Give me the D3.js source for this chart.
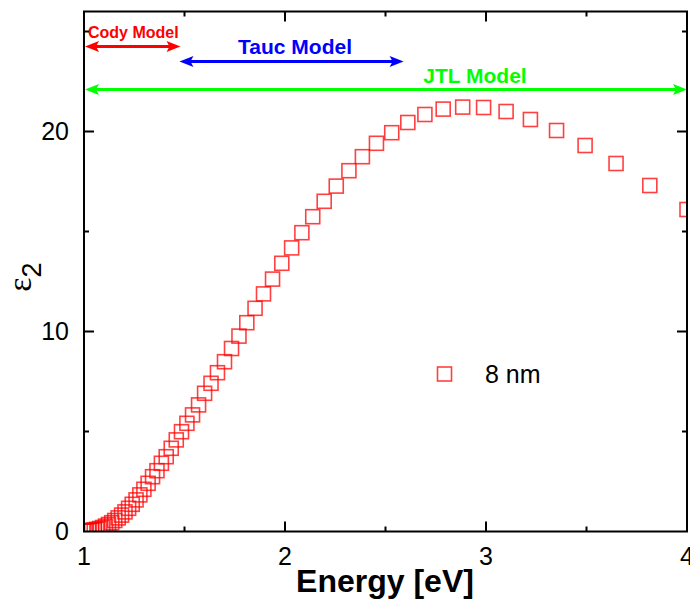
<!DOCTYPE html>
<html><head><meta charset="utf-8">
<script src="https://cdn.jsdelivr.net/npm/d3@7"></script>
<style>body{margin:0;background:#fff}svg{display:block}</style>
</head><body>
<svg id="c" width="690" height="603"></svg>
<script>
const energy = [4.000,3.815,3.647,3.493,3.351,3.221,3.100,2.988,2.884,2.787,2.696,2.611,2.531,2.455,2.385,2.318,2.255,2.195,2.138,2.084,2.033,1.984,1.938,1.893,1.851,1.810,1.771,1.734,1.699,1.664,1.632,1.600,1.570,1.540,1.512,1.485,1.459,1.434,1.409,1.385,1.363,1.341,1.319,1.298,1.278,1.259,1.240,1.222,1.204,1.187,1.170,1.153,1.138,1.122,1.107,1.093,1.078,1.064,1.051,1.038,1.025,1.012,1.000];
const eps2 = [16.1,17.3,18.4,19.3,20.05,20.6,21.0,21.2,21.22,21.12,20.85,20.45,19.94,19.41,18.74,18.04,17.27,16.51,15.74,14.94,14.18,13.41,12.62,11.88,11.16,10.44,9.77,9.15,8.49,7.94,7.41,6.91,6.33,5.83,5.41,4.99,4.58,4.16,3.74,3.41,3.04,2.74,2.41,2.11,1.83,1.58,1.36,1.16,0.98,0.82,0.68,0.55,0.44,0.35,0.27,0.20,0.15,0.11,0.08,0.06,0.04,0.03,0.02];
const seriesName = "8 nm";
const xMajor = [1,2,3,4];
const xMinor = [1.5,2.5,3.5];
const yMajor = [0,10,20];
const yMinor = [5,15,25];
const modelNames = ["Cody Model","Tauc Model","JTL Model"];
const modelFrom = [1.0,1.47,1.0];
const modelTo = [1.48,2.59,4.0];
const modelColors = ["#ff0000","#0000ff","#00ff00"];

const svg = d3.select("#c");
const L = 84, R = 687, T = 11.5, B = 531.5;
const x = d3.scaleLinear().domain([1,4]).range([L,R]);
const y = d3.scaleLinear().domain([0,26]).range([B,T]);

svg.append("defs").append("clipPath").attr("id","clip")
  .append("rect").attr("x",L).attr("y",T).attr("width",R-L).attr("height",B-T);

// data
const g = svg.append("g").attr("clip-path","url(#clip)");
const s = 14;
g.selectAll("rect.pt").data(energy.map((e,i)=>[e,eps2[i]])).join("rect")
  .attr("class","pt")
  .attr("x",d=>x(d[0])-s/2).attr("y",d=>y(d[1])-s/2)
  .attr("width",s).attr("height",s)
  .attr("fill","none").attr("stroke","#ff0000").attr("stroke-opacity",0.75).attr("stroke-width",1.6);

// arrows
const arrowY = [24.25, 23.5, 22.1];
function head(xTip, yy, dir, color){
  const len = 14, hw = 5.5, notch = 3;
  const p = d3.path();
  p.moveTo(xTip, yy);
  p.lineTo(xTip - dir*len, yy - hw);
  p.lineTo(xTip - dir*(len-notch), yy);
  p.lineTo(xTip - dir*len, yy + hw);
  p.closePath();
  svg.append("path").attr("d",p.toString()).attr("fill",color);
}
modelNames.forEach((n,i)=>{
  const yy = y(arrowY[i]);
  const x0 = x(modelFrom[i])+1, x1 = x(modelTo[i]);
  svg.append("line").attr("x1",x0+6).attr("x2",x1-6).attr("y1",yy).attr("y2",yy)
    .attr("stroke",modelColors[i]).attr("stroke-width",3.2);
  head(x0, yy, -1, modelColors[i]);
  head(x1, yy, 1, modelColors[i]);
});
// labels
svg.append("text").attr("x",x(1.02)).attr("y",y(24.7)).text(modelNames[0])
  .attr("font-family","Liberation Sans, Arial, sans-serif").attr("font-weight","bold")
  .attr("font-size",16).attr("fill",modelColors[0]);
svg.append("text").attr("x",x(2.05)).attr("y",y(23.9)).text(modelNames[1])
  .attr("text-anchor","middle")
  .attr("font-family","Liberation Sans, Arial, sans-serif").attr("font-weight","bold")
  .attr("font-size",21).attr("fill",modelColors[1]);
svg.append("text").attr("x",x(2.945)).attr("y",y(22.43)).text(modelNames[2])
  .attr("text-anchor","middle")
  .attr("font-family","Liberation Sans, Arial, sans-serif").attr("font-weight","bold")
  .attr("font-size",21).attr("fill",modelColors[2]);

// axes frame with inward ticks
const ax = svg.append("g").attr("stroke","#000").attr("stroke-width",2);
ax.append("rect").attr("x",L).attr("y",T).attr("width",R-L).attr("height",B-T).attr("fill","none");
function ticks(vals,len){
  vals.forEach(v=>{
    ax.append("line").attr("x1",x(v)).attr("x2",x(v)).attr("y1",B).attr("y2",B-len);
    ax.append("line").attr("x1",x(v)).attr("x2",x(v)).attr("y1",T).attr("y2",T+len);
  });
}
function yticks(vals,len){
  vals.forEach(v=>{
    ax.append("line").attr("y1",y(v)).attr("y2",y(v)).attr("x1",L).attr("x2",L+len);
    ax.append("line").attr("y1",y(v)).attr("y2",y(v)).attr("x1",R).attr("x2",R-len);
  });
}
ticks(xMajor.slice(1,3),10); ticks(xMinor,5);
yticks(yMajor.slice(1),10); yticks(yMinor,5);

const font = "Liberation Sans, Arial, sans-serif";
svg.selectAll("text.xt").data(xMajor).join("text").attr("class","xt")
  .attr("x",d=>x(d)).attr("y",565).attr("text-anchor","middle")
  .attr("font-family",font).attr("font-size",25).text(d=>d);
svg.selectAll("text.yt").data(yMajor).join("text").attr("class","yt")
  .attr("x",69).attr("y",d=>y(d)).attr("dy","0.35em").attr("text-anchor","end")
  .attr("font-family",font).attr("font-size",25).text(d=>d);

svg.append("text").attr("x",385).attr("y",592).attr("text-anchor","middle")
  .attr("font-family",font).attr("font-weight","bold").attr("font-size",32).text("Energy [eV]");

const yl = svg.append("text").attr("transform","translate(31,277) rotate(-90)")
  .attr("text-anchor","middle").attr("font-size",34);
yl.append("tspan").attr("font-family","Liberation Serif, Times New Roman, serif").text("ε");
yl.append("tspan").attr("font-family",font).attr("font-size",27).attr("dy",10).text("2");

// legend
svg.append("rect").attr("x",437.5).attr("y",367).attr("width",14).attr("height",14)
  .attr("fill","none").attr("stroke","#ff0000").attr("stroke-opacity",0.75).attr("stroke-width",1.6);
svg.append("text").attr("x",485).attr("y",383).attr("font-family",font).attr("font-size",25).text(seriesName);
</script>
</body></html>
